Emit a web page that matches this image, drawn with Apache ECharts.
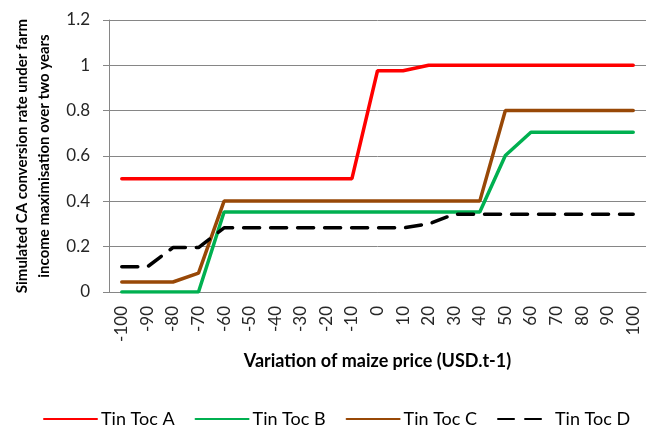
<!DOCTYPE html>
<html>
<head>
<meta charset="utf-8">
<script src="https://cdn.jsdelivr.net/npm/echarts@6/dist/echarts.min.js"></script>
<style>
  html, body { margin: 0; padding: 0; background: #fff; }
  #chart { width: 655px; height: 426px; }
</style>
</head>
<body>
<div id="chart"></div>
<script>
// maize price variation (USD.t-1)
const priceSteps = ['-100', '-90', '-80', '-70', '-60', '-50', '-40', '-30', '-20', '-10', '0',
  '10', '20', '30', '40', '50', '60', '70', '80', '90', '100'];

const tinTocA = [0.5, 0.5, 0.5, 0.5, 0.5, 0.5, 0.5, 0.5, 0.5, 0.5, 0.976,
  0.976, 1, 1, 1, 1, 1, 1, 1, 1, 1];
const tinTocB = [0, 0, 0, 0, 0.353, 0.353, 0.353, 0.353, 0.353, 0.353, 0.353,
  0.353, 0.353, 0.353, 0.353, 0.602, 0.705, 0.705, 0.705, 0.705, 0.705];
const tinTocC = [0.044, 0.044, 0.044, 0.083, 0.401, 0.401, 0.401, 0.401, 0.401, 0.401, 0.401,
  0.401, 0.401, 0.401, 0.401, 0.801, 0.801, 0.801, 0.801, 0.801, 0.801];
const tinTocD = [0.111, 0.111, 0.196, 0.196, 0.283, 0.283, 0.283, 0.283, 0.283, 0.283, 0.283,
  0.283, 0.3, 0.343, 0.343, 0.343, 0.343, 0.343, 0.343, 0.343, 0.343];

const FONT = 'Lato, "Open Sans", sans-serif';

const chart = echarts.init(document.getElementById('chart'));

function lineSeries(name, data, color, type) {
  return {
    name: name,
    type: 'line',
    data: data,
    symbol: 'none',
    lineStyle: { color: color, width: 3.5, type: type || 'solid', cap: 'round' },
    itemStyle: { color: color }
  };
}

chart.setOption({
  animation: false,
  grid: { left: 109, right: 9, top: 20, bottom: 134, outerBoundsMode: 'none' },
  xAxis: {
    type: 'category',
    data: priceSteps,
    boundaryGap: true,
    name: 'Variation of maize price (USD.t-1)',
    nameLocation: 'middle',
    nameGap: 60,
    nameTextStyle: { fontFamily: FONT, fontWeight: 'bold', fontSize: 18, color: '#000' },
    axisLine: { lineStyle: { color: '#868686' } },
    axisTick: { length: 6, lineStyle: { color: '#868686' } },
    axisLabel: { rotate: 90, margin: 14, fontFamily: FONT, fontSize: 17, color: '#262626', interval: 0 },
    splitLine: { show: false }
  },
  yAxis: {
    type: 'value',
    min: 0,
    max: 1.2,
    interval: 0.2,
    name: 'Simulated CA conversion rate under farm\nincome maximisation over two years',
    nameLocation: 'middle',
    nameGap: 52,
    nameTextStyle: { fontFamily: FONT, fontWeight: 'bold', fontSize: 15, color: '#000', lineHeight: 22 },
    axisLine: { show: true, lineStyle: { color: '#868686' } },
    axisTick: { show: true, length: 6, lineStyle: { color: '#868686' } },
    axisLabel: { margin: 19, fontFamily: FONT, fontSize: 17, color: '#262626' },
    splitLine: { lineStyle: { color: '#868686', width: 1 } }
  },
  legend: {
    left: 38,
    top: 405,
    itemWidth: 53,
    itemHeight: 4,
    itemGap: 20,
    itemStyle: { opacity: 0 },
    textStyle: { fontFamily: FONT, fontSize: 18, color: '#000', padding: [0, 0, 0, -1] },
    data: ['Tin Toc A', 'Tin Toc B', 'Tin Toc C', 'Tin Toc D']
  },
  series: [
    lineSeries('Tin Toc A', tinTocA, '#ff0000'),
    lineSeries('Tin Toc B', tinTocB, '#00b050'),
    lineSeries('Tin Toc C', tinTocC, '#984807'),
    lineSeries('Tin Toc D', tinTocD, '#000000', [16, 11])
  ]
});
</script>
</body>
</html>
